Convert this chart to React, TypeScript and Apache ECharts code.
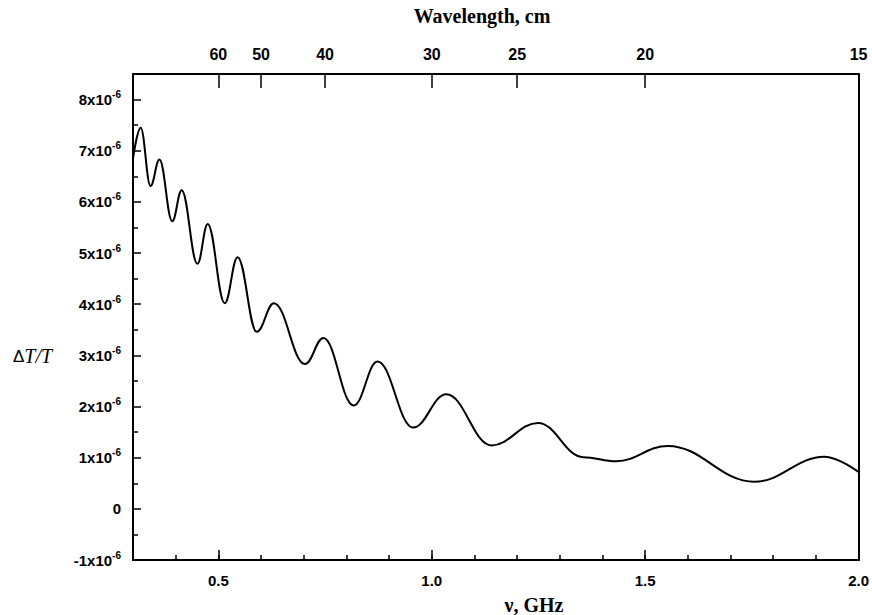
import React, { useEffect, useRef } from "react";
import * as echarts from "echarts";

// Frequency (GHz) of the curve's turning points
const freqGHz = [
  0.3, 0.318, 0.341, 0.362, 0.392, 0.414, 0.451, 0.475, 0.515, 0.545, 0.59,
  0.63, 0.703, 0.746, 0.817, 0.873, 0.956, 1.034, 1.14, 1.249, 1.355, 1.432,
  1.553, 1.756, 1.92, 2.0,
];
// ΔT/T in units of 1e-6
const deltaTe6 = [
  6.85, 7.45, 6.31, 6.83, 5.62, 6.23, 4.79, 5.57, 4.02, 4.92, 3.46,
  4.02, 2.83, 3.34, 2.02, 2.88, 1.59, 2.24, 1.24, 1.68, 1.01, 0.93,
  1.23, 0.53, 1.02, 0.72,
];
// Top axis: wavelength tick labels (cm)
const wavelengthCm = [60, 50, 40, 30, 25, 20, 15];
// Bottom axis labelled ticks (GHz)
const freqMajor = [0.5, 1.0, 1.5, 2.0];

const SANS = '"Liberation Sans", Arial, sans-serif';
const SERIF = '"Liberation Serif", "Times New Roman", serif';

export default function App() {
  const ref = useRef<HTMLDivElement>(null);
  useEffect(() => {
    const chart = echarts.init(ref.current!, null, { renderer: "svg" });
    const topVals = wavelengthCm.map((l) => 30 / l);
    const lineStyle = { color: "#000", width: 2 };
    const tickStyle = { color: "#000", width: 1.5 };
    chart.setOption({
      animation: false,
      backgroundColor: "#fff",
      grid: { left: 133, right: 13, top: 74, bottom: 55 },
      xAxis: [
        {
          type: "value",
          min: 0.3,
          max: 2.0,
          interval: 0.1,
          position: "bottom",
          axisLine: { show: true, onZero: false, lineStyle },
          axisTick: { show: true, inside: true, length: 5, lineStyle: tickStyle },
          axisLabel: {
            margin: 13,
            color: "#000",
            fontFamily: SANS,
            fontWeight: "bold",
            fontSize: 15,
            formatter: (v: number) =>
              freqMajor.some((m) => Math.abs(m - v) < 1e-6) ? v.toFixed(1) : "",
          },
          splitLine: { show: false },
        },
        {
          type: "value",
          min: 0.3,
          max: 2.0,
          position: "bottom",
          axisLine: { show: false, onZero: false },
          axisTick: {
            show: true,
            inside: true,
            length: 10,
            lineStyle: tickStyle,
            customValues: freqMajor,
          },
          axisLabel: { show: false },
          splitLine: { show: false },
        },
        {
          type: "value",
          min: 0.3,
          max: 2.0,
          position: "top",
          axisLine: { show: true, onZero: false, lineStyle },
          axisTick: {
            show: true,
            inside: true,
            length: 14,
            lineStyle: tickStyle,
            customValues: topVals,
          },
          axisLabel: {
            customValues: topVals,
            margin: 12,
            color: "#000",
            fontFamily: SANS,
            fontWeight: "bold",
            fontSize: 16,
            formatter: (v: number) => String(Math.round(30 / v)),
          },
          splitLine: { show: false },
        },
      ],
      yAxis: [
        {
          type: "value",
          min: -1,
          max: 8.5,
          interval: 1,
          position: "left",
          axisLine: { show: true, onZero: false, lineStyle },
          axisTick: { show: true, inside: true, length: 8, lineStyle: tickStyle },
          minorTick: { show: true, splitNumber: 2, length: 5, lineStyle: tickStyle },
          axisLabel: {
            margin: 12,
            color: "#000",
            formatter: (v: number) => {
              if (Math.abs(v - Math.round(v)) > 1e-6) return "";
              const n = Math.round(v);
              if (n === 0) return "{b|0}";
              return `{b|${n}x10}{s|-6}`;
            },
            rich: {
              b: {
                fontFamily: SANS,
                fontWeight: "bold",
                fontSize: 15,
                lineHeight: 20,
                color: "#000",
              },
              s: {
                fontFamily: SANS,
                fontWeight: "bold",
                fontSize: 10,
                lineHeight: 10,
                verticalAlign: "top",
                color: "#000",
              },
            },
          },
          splitLine: { show: false },
        },
        {
          type: "value",
          min: -1,
          max: 8.5,
          position: "right",
          axisLine: { show: true, onZero: false, lineStyle },
          axisTick: { show: false },
          axisLabel: { show: false },
          splitLine: { show: false },
        },
      ],
      series: [
        {
          type: "line",
          xAxisIndex: 0,
          yAxisIndex: 0,
          data: freqGHz.map((f, i) => [f, deltaTe6[i]]),
          smooth: 0.4,
          smoothMonotone: "x",
          symbol: "none",
          lineStyle: { color: "#000", width: 2 },
          clip: true,
        },
      ],
      graphic: [
        {
          type: "text",
          x: 482,
          y: 16,
          style: {
            text: "Wavelength, cm",
            fontFamily: SERIF,
            fontWeight: "bold",
            fontSize: 20,
            fill: "#000",
            align: "center",
            verticalAlign: "middle",
          },
        },
        {
          type: "text",
          x: 534,
          y: 605,
          style: {
            text: "ν, GHz",
            fontFamily: SERIF,
            fontWeight: "bold",
            fontSize: 20,
            fill: "#000",
            align: "center",
            verticalAlign: "middle",
          },
        },
        {
          type: "text",
          x: 13,
          y: 356,
          style: {
            text: "{d|Δ}{t|T/T}",
            rich: {
              d: { fontFamily: SANS, fontSize: 17, fill: "#000" },
              t: { fontFamily: SERIF, fontStyle: "italic", fontSize: 20, fill: "#000" },
            },
            align: "left",
            verticalAlign: "middle",
          },
        },
      ],
    });
    return () => chart.dispose();
  }, []);
  return (
    <div
      ref={ref}
      style={{ position: "absolute", left: 0, top: 0, width: 872, height: 615 }}
    />
  );
}
